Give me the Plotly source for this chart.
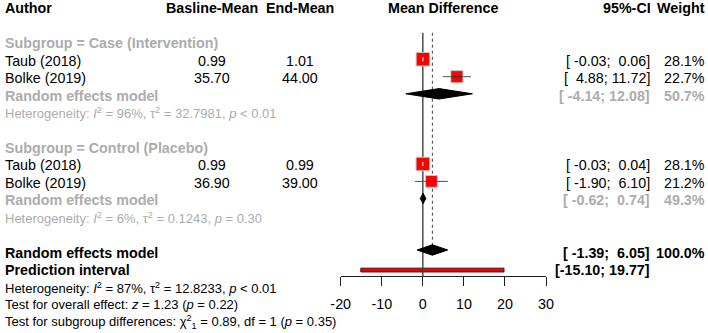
import plotly.graph_objects as go
import numpy as np

W, H = 708, 333

# ---------------- data ----------------
subgroups = ["Subgroup = Case (Intervention)", "Subgroup = Control (Placebo)"]
authors = ["Taub (2018)", "Bolke (2019)", "Taub (2018)", "Bolke (2019)"]
baseline = [0.99, 35.70, 0.99, 36.90]
endmean = [1.01, 44.00, 0.99, 39.00]
md = [0.02, 8.30, 0.00, 2.10]
ci_lo = [-0.03, 4.88, -0.03, -1.90]
ci_hi = [0.06, 11.72, 0.04, 6.10]
weight = [28.1, 22.7, 28.1, 21.2]

sub_lo = [-4.14, -0.62]
sub_hi = [12.08, 0.74]
sub_w = [50.7, 49.3]
sub_het = ["Heterogeneity: <i>I</i><sup>2</sup> = 96%, τ<sup>2</sup> = 32.7981, <i>p</i> &lt; 0.01",
           "Heterogeneity: <i>I</i><sup>2</sup> = 6%, τ<sup>2</sup> = 0.1243, <i>p</i> = 0.30"]

overall_lo, overall_hi, overall_w = -1.39, 6.05, 100.0
pi_lo, pi_hi = -15.10, 19.77
overall_het = "Heterogeneity: <i>I</i><sup>2</sup> = 87%, τ<sup>2</sup> = 12.8233, <i>p</i> &lt; 0.01"
test_overall = "Test for overall effect: <i>z</i> = 1.23 (<i>p</i> = 0.22)"
test_sub = "Test for subgroup differences: χ<sup>2</sup><sub>1</sub> = 0.89, df = 1 (<i>p</i> = 0.35)"

xticks = [-20, -10, 0, 10, 20, 30]

# ---------------- layout rows ----------------
sub_rows = [2, 8]
study_rows = [3, 4, 9, 10]
rem_rows = [5, 11]
het_rows = [6, 12]
overall_row, pi_row = 14, 15
extra_rows = [16, 17, 18]

ROW0, ROWH = 8.3, 17.45
AX_Y = 276
y_top = -ROW0 / ROWH
y_bot = (AX_Y - ROW0) / ROWH

FONT = "Liberation Sans, Arial, sans-serif"
FS = 14.3
FS_SMALL = 13.0
GRAY = "#acacac"
BLACK = "#000000"

fig = go.Figure()

def fmt_ci(lo, hi):
    return ("[%6.2f; %5.2f]" % (lo, hi)).replace(" ", "\u00a0")

top_line = study_rows[0] - 1.6
overall_est = (overall_lo + overall_hi) / 2
dh = 0.3  # diamond half height in rows

# prediction interval bar
ph = 0.11
fig.add_trace(go.Scatter(x=[pi_lo, pi_hi, pi_hi, pi_lo, pi_lo],
                         y=[pi_row - ph, pi_row - ph, pi_row + ph, pi_row + ph, pi_row - ph],
                         fill="toself", fillcolor="#ee0000", mode="lines",
                         line=dict(color="#501010", width=1), hoverinfo="skip"))

# reference line at 0 and dotted line at overall estimate
fig.add_trace(go.Scatter(x=[0, 0], y=[top_line, y_bot], mode="lines",
                         line=dict(color="#404040", width=1.4), hoverinfo="skip"))
fig.add_trace(go.Scatter(x=[overall_est, overall_est], y=[top_line, overall_row - dh], mode="lines",
                         line=dict(color="#404040", width=1, dash="dot"), hoverinfo="skip"))

# study CI lines
px_per_unit = (546 - 340.7) / 50.0
sizes = [2.55 * np.sqrt(w) for w in weight]
for i in range(len(md)):
    fig.add_trace(go.Scatter(x=[ci_lo[i], ci_hi[i]], y=[study_rows[i] - 0.08] * 2, mode="lines",
                             line=dict(color="#505050", width=1), hoverinfo="skip"))

# squares
fig.add_trace(go.Scatter(x=md, y=[r - 0.08 for r in study_rows], mode="markers",
                         marker=dict(symbol="square", size=sizes, color="#ff0000", opacity=1,
                                     line=dict(color="#c8c8c8", width=1)),
                         hoverinfo="skip"))

# CI lines inside squares
for i in range(len(md)):
    half = sizes[i] / 2 / px_per_unit
    lo = max(ci_lo[i], md[i] - half)
    hi = min(ci_hi[i], md[i] + half)
    inside = (ci_hi[i] - ci_lo[i]) / 2 < half
    if inside:
        fig.add_trace(go.Scatter(x=[md[i], md[i]], y=[study_rows[i] - 0.2, study_rows[i] + 0.04],
                                 mode="lines", line=dict(color="#ffffff", width=1), hoverinfo="skip"))
    else:
        fig.add_trace(go.Scatter(x=[lo, hi], y=[study_rows[i] - 0.08] * 2, mode="lines",
                                 line=dict(color="#303030", width=1), hoverinfo="skip"))

# diamonds
def diamond(lo, hi, row):
    est = (lo + hi) / 2
    fig.add_trace(go.Scatter(x=[lo, est, hi, est, lo],
                             y=[row - 0.1, row - 0.1 - dh, row - 0.1, row - 0.1 + dh, row - 0.1],
                             fill="toself", fillcolor="#000000", mode="lines",
                             line=dict(color="#000000", width=1), hoverinfo="skip"))

for k in range(2):
    diamond(sub_lo[k], sub_hi[k], rem_rows[k])
diamond(overall_lo, overall_hi, overall_row - 0.05)

# ---------------- text ----------------
ann = []
def txt(px, row, s, align="left", size=FS, color=BLACK):
    ypx = ROW0 + ROWH * row
    ann.append(dict(x=px / W, y=1 - ypx / H, xref="paper", yref="paper", text=s, showarrow=False,
                    xanchor=align, yanchor="middle", align=align, borderpad=0,
                    font=dict(family=FONT, size=size, color=color)))

X_AUTH, X_BASE, X_END, X_MD, X_CI, X_W = 4, 211.5, 299.5, 443.3, 650.5, 705.5

txt(X_AUTH, 0, "<b>Author</b>")
txt(X_BASE, 0, "<b>Basline-Mean</b>", "center")
txt(X_END, 0, "<b>End-Mean</b>", "center")
txt(X_MD, 0, "<b>Mean Difference</b>", "center")
txt(X_CI + 1.5, 0, "<b>95%-CI</b>", "right")
txt(X_W, 0, "<b>Weight</b>", "right")

for k in range(2):
    txt(X_AUTH, sub_rows[k], "<b>%s</b>" % subgroups[k], color=GRAY)
    txt(X_AUTH, rem_rows[k], "<b>Random effects model</b>", color=GRAY)
    txt(X_CI, rem_rows[k], "<b>%s</b>" % fmt_ci(sub_lo[k], sub_hi[k]), "right", color=GRAY)
    txt(X_W, rem_rows[k], "<b>%.1f%%</b>" % sub_w[k], "right", color=GRAY)
    txt(X_AUTH, het_rows[k], sub_het[k], size=FS_SMALL, color=GRAY)

for i in range(len(md)):
    r = study_rows[i]
    txt(X_AUTH, r, authors[i])
    txt(X_BASE, r, "%.2f" % baseline[i], "center")
    txt(X_END, r, "%.2f" % endmean[i], "center")
    txt(X_CI, r, fmt_ci(ci_lo[i], ci_hi[i]), "right")
    txt(X_W, r, "%.1f%%" % weight[i], "right")

txt(X_AUTH, overall_row, "<b>Random effects model</b>")
txt(X_CI, overall_row, "<b>%s</b>" % fmt_ci(overall_lo, overall_hi), "right")
txt(X_W, overall_row, "<b>%.1f%%</b>" % overall_w, "right")
txt(X_AUTH, pi_row, "<b>Prediction interval</b>")
txt(X_CI, pi_row, "<b>%s</b>" % fmt_ci(pi_lo, pi_hi), "right")
for s, r in zip([overall_het, test_overall, test_sub], extra_rows):
    txt(X_AUTH, r, s, size=FS_SMALL)

fig.update_layout(
    width=W, height=H, margin=dict(l=0, r=0, t=0, b=0, autoexpand=False),
    paper_bgcolor="white", plot_bgcolor="white", showlegend=False,
    annotations=ann,
    xaxis=dict(domain=[340.7 / W, 546 / W], range=[-20, 30], showgrid=False, zeroline=False,
               showline=True, linecolor="#202020", linewidth=1,
               ticks="outside", ticklen=9, tickwidth=1, tickcolor="#202020",
               tickvals=xticks, ticktext=[str(t) for t in xticks], ticklabelstandoff=6,
               tickfont=dict(family=FONT, size=14.3, color=BLACK), anchor="y", side="bottom"),
    yaxis=dict(domain=[1 - AX_Y / H, 1], range=[y_bot, y_top], visible=False, showgrid=False,
               zeroline=False),
)

fig.write_html("out.html")
